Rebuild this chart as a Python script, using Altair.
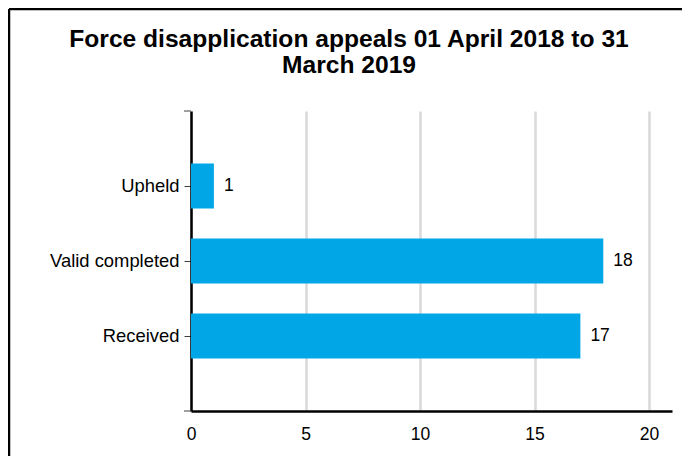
import altair as alt
import pandas as pd

categories = ["Upheld", "Valid completed", "Received"]
values = [1, 18, 17]
x_ticks = [0, 5, 10, 15, 20]
title_lines = ["Force disapplication appeals 01 April 2018 to 31", "March 2019"]

FONT = "Liberation Sans"
BAR = "#00A6E6"

df = pd.DataFrame({"category": categories, "value": values})

W, H = 481, 300

y_enc = alt.Y(
    "category:N",
    sort=categories,
    scale=alt.Scale(paddingInner=0.4, paddingOuter=0.7),
    axis=alt.Axis(
        title=None, labelFont=FONT, labelFontSize=18.4, labelColor="#000000",
        domainColor="#000000", domainWidth=2.5, tickColor="#404040",
        tickSize=7, tickWidth=1, labelPadding=5, grid=False,
    ),
)
x_enc = alt.X(
    "value:Q",
    scale=alt.Scale(domain=[0, 21], nice=False),
    axis=alt.Axis(
        title=None, values=x_ticks, labelFont=FONT, labelFontSize=17.5,
        labelColor="#000000", domainColor="#000000", domainWidth=2.5,
        ticks=False, labelPadding=14, labelFlush=False, grid=True,
        gridColor="#d9d9d9", gridWidth=2.5,
    ),
)

base = alt.Chart(df)
bars = base.mark_bar(color=BAR).encode(y=y_enc, x=x_enc)
labels = base.mark_text(
    align="left", baseline="middle", dx=10, font=FONT, fontSize=17.5, color="#000000"
).encode(y=alt.Y("category:N", sort=categories), x="value:Q", text="value:Q")

one = pd.DataFrame({"k": [0]})

# end ticks of the category axis
end_ticks = [
    alt.Chart(one).mark_rule(color="#404040", strokeWidth=1).encode(
        x=alt.value(-7), x2=alt.value(0), y=alt.value(yy)
    )
    for yy in (0, H)
]

titles = []
for i, line in enumerate(title_lines):
    titles.append(
        alt.Chart(pd.DataFrame({"t": [line]})).mark_text(
            font=FONT, fontSize=24.6, fontWeight="bold", color="#000000",
            align="center", baseline="middle",
        ).encode(text="t:N", x=alt.value(158), y=alt.value(-71 + 26 * i))
    )

frame_left = alt.Chart(one).mark_rule(color="#000000", strokeWidth=2.5).encode(
    x=alt.value(-182), y=alt.value(-102), y2=alt.value(400)
)
frame_top = alt.Chart(one).mark_rule(color="#000000", strokeWidth=2.5).encode(
    x=alt.value(-182), x2=alt.value(520), y=alt.value(-102)
)

chart = alt.layer(
    bars, labels, *end_ticks, *titles, frame_left, frame_top
).properties(
    width=W, height=H,
    autosize=alt.AutoSizeParams(type="none"),
    padding={"left": 183, "top": 103, "right": 10, "bottom": 45},
    background="#ffffff",
).configure_view(stroke=None)

chart.save("out.html", embed_options={"renderer": "svg", "actions": False})
